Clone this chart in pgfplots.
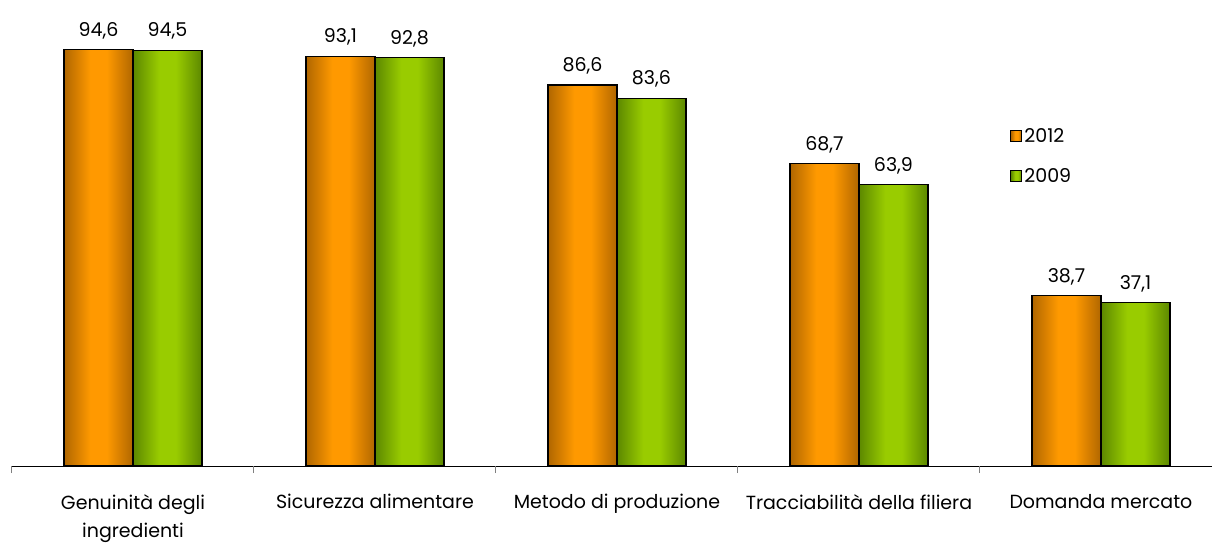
\documentclass[border=0pt]{standalone}
\usepackage{pgfplots}
\pgfplotsset{compat=1.18}
\usepackage{fontspec}
\setmainfont{Poppins}
\definecolor{od}{HTML}{B06600}
\definecolor{om}{HTML}{FF9900}
\definecolor{gd}{HTML}{5C8800}
\definecolor{gm}{HTML}{99CC00}
\pgfdeclarehorizontalshading{obar}{100bp}{color(0bp)=(od); color(25bp)=(od); color(44bp)=(om); color(56bp)=(om); color(75bp)=(od); color(100bp)=(od)}
\pgfdeclarehorizontalshading{gbar}{100bp}{color(0bp)=(gd); color(25bp)=(gd); color(44bp)=(gm); color(56bp)=(gm); color(75bp)=(gd); color(100bp)=(gd)}
\pgfplotsset{
  obar/.style={ybar, bar width=69pt, bar shift=-34.5pt, draw=black, line width=1.2pt, shade, shading=obar,
    every node near coord/.append style={xshift=-34.5pt}},
  gbar/.style={ybar, bar width=69pt, bar shift=34.5pt, draw=black, line width=1.2pt, shade, shading=gbar,
    every node near coord/.append style={xshift=34.5pt}},
}
\begin{document}
\begin{tikzpicture}
\path[use as bounding box] (-12pt,-77pt) rectangle (1200pt,466pt);
\begin{axis}[
  at={(0pt,0pt)}, anchor=south west,
  scale only axis, width=1210pt, height=440pt,
  xmin=-0.5, xmax=4.5, ymin=0, ymax=100,
  axis y line=none, axis x line*=bottom,
  axis line style={black, line width=1pt},
  xtick={0,1,2,3,4},
  xticklabels={{Genuinità degli\\ingredienti},{Sicurezza alimentare},{Metodo di produzione},{Tracciabilità della filiera},{Domanda mercato}},
  xticklabel style={font=\fontsize{19}{28}\selectfont, align=center, yshift=-25pt},
  major tick length=0pt,
  extra x ticks={-0.5,0.5,1.5,2.5,3.5},
  extra x tick labels={},
  extra x tick style={major tick length=7pt, tick align=outside, tick style={gray, line width=1pt}},
  nodes near coords,
  nodes near coords style={font=\fontsize{19}{22}\selectfont, black, yshift=7pt},
  /pgf/number format/.cd, use comma, fixed, fixed zerofill, precision=1, assume math mode=true,
  /pgfplots/.cd,
  legend style={at={(rel axis cs:0.825,0.772)}, anchor=north west, draw=none, fill=none,
    font=\fontsize{19}{22}\selectfont, row sep=20pt, inner sep=0pt, cells={anchor=west}},
  legend image code/.code={\draw[#1, draw=black, line width=1pt] (0pt,-5.5pt) rectangle (11pt,5.5pt);},
]
\addplot[obar] coordinates {(0,94.6)};
\addlegendentry{2012}
\addplot[gbar] coordinates {(0,94.5)};
\addlegendentry{2009}
\addplot[obar, forget plot] coordinates {(1,93.1)};
\addplot[obar, forget plot] coordinates {(2,86.6)};
\addplot[obar, forget plot] coordinates {(3,68.7)};
\addplot[obar, forget plot] coordinates {(4,38.7)};
\addplot[gbar, forget plot] coordinates {(1,92.8)};
\addplot[gbar, forget plot] coordinates {(2,83.6)};
\addplot[gbar, forget plot] coordinates {(3,63.9)};
\addplot[gbar, forget plot] coordinates {(4,37.1)};
\end{axis}
\end{tikzpicture}
\end{document}
